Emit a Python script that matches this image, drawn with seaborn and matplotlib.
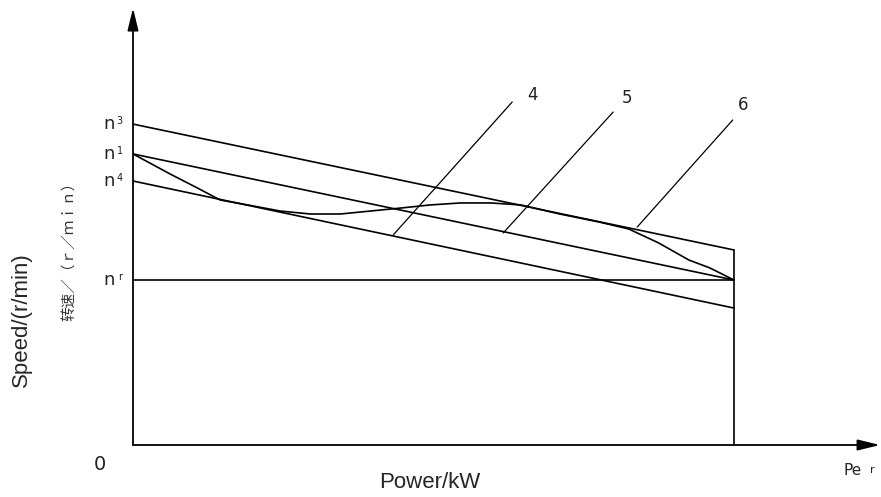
import numpy as np
import pandas as pd
import seaborn as sns
import matplotlib.pyplot as plt

sns.set_style('white')
plt.rcParams['font.family'] = ['DejaVu Sans', 'Noto Sans CJK SC']

# rated power P_er = 10, speeds in r/min
power = [0, 10]
n3_line = [1945, 1182]
n1_line = [1764, 1000]
n4_line = [1600, 830]
nr_line = [1000, 1000]
rated_x = [10, 10]
rated_y = [0, 1182]

# measured characteristic (curve from n1 down to nr)
curve_power = [0, 0.28, 0.62, 1.07, 1.45, 1.95, 2.45, 2.95, 3.45, 3.95, 4.45,
               4.95, 5.45, 5.95, 6.45, 7.1, 7.75, 8.25, 8.75, 9.25, 9.6, 10]
curve_speed = [1764, 1709, 1642, 1558, 1485, 1452, 1418, 1400, 1400, 1418, 1436,
               1455, 1467, 1467, 1455, 1400, 1352, 1309, 1224, 1121, 1073, 1000]

# leader lines for labels 4, 5, 6
leader_labels = ['4', '5', '6']
leader_x0 = [4.33, 6.16, 8.39]
leader_y0 = [1273, 1285, 1321]
leader_x1 = [6.31, 7.99, 9.98]
leader_y1 = [2079, 2018, 1970]
label_x = [6.64, 8.22, 10.15]
label_y = [2121, 2103, 2061]

speed_names = ['n', 'n', 'n', 'n']
speed_subs = ['3', '1', '4', 'r']
speed_levels = [1945, 1764, 1600, 1000]

rows = []
for name, xs, ys in [('n3', power, n3_line), ('n1', power, n1_line),
                     ('n4', power, n4_line), ('nr', power, nr_line),
                     ('rated', rated_x, rated_y), ('curve', curve_power, curve_speed)]:
    for x, y in zip(xs, ys):
        rows.append({'series': name, 'power': x, 'speed': y})
for i in range(3):
    rows.append({'series': 'lead' + leader_labels[i], 'power': leader_x0[i], 'speed': leader_y0[i]})
    rows.append({'series': 'lead' + leader_labels[i], 'power': leader_x1[i], 'speed': leader_y1[i]})
df = pd.DataFrame(rows)

fig = plt.figure(figsize=(8.81, 4.97), dpi=100)
ax = fig.add_axes([133 / 881, 52 / 497, 748.2 / 881, 445 / 497])

main = df[~df['series'].str.startswith('lead')]
sns.lineplot(data=main, x='power', y='speed', units='series', estimator=None,
             sort=False, color='black', lw=1.2, ax=ax, legend=False)
lead = df[df['series'].str.startswith('lead')]
sns.lineplot(data=lead, x='power', y='speed', units='series', estimator=None,
             sort=False, color='black', lw=0.9, ax=ax, legend=False)

ax.set_xlim(0, 12.45)
ax.set_ylim(0, 2697)
ax.set_axis_off()

# axes with arrows
arrow = dict(arrowstyle='-|>,head_length=0.9,head_width=0.22', mutation_scale=15,
             color='black', lw=1.3, shrinkA=0, shrinkB=0)
ax.annotate('', xy=(0, 2648), xytext=(0, 0), arrowprops=arrow)
ax.annotate('', xy=(12.43, 0), xytext=(0, 0), arrowprops=arrow)

for nm, sub, lev in zip(speed_names, speed_subs, speed_levels):
    ax.text(-0.4, lev, nm, ha='center', va='center', fontsize=13, color='#222')
    ax.text(-0.22, lev + 20, sub, ha='center', va='center', fontsize=7, color='#222')

for lab, x, y in zip(leader_labels, label_x, label_y):
    ax.text(x, y, lab, ha='center', va='center', fontsize=12, color='#222')

ax.text(-0.55, -121, '0', ha='center', va='center', fontsize=14, color='#222')
ax.text(11.98, -152, 'Pe', ha='center', va='center', fontsize=11, color='#222')
ax.text(12.3, -150, 'r', ha='center', va='center', fontsize=8, color='#222')

fig.text(430 / 881, 1 - 483 / 497, 'Power/kW', ha='center', va='center',
         fontsize=16, family='Liberation Sans')
fig.text(21 / 881, 1 - 320 / 497, 'Speed/(r/min)', ha='center', va='center',
         fontsize=16, rotation=90, family='Liberation Sans')
fig.text(70 / 881, 1 - 248 / 497, '转速／（ｒ／ｍｉｎ）', ha='center', va='center',
         fontsize=10.5, rotation=90, family=['Noto Sans CJK SC', 'DejaVu Sans'], color='#333')

fig.savefig('out.png', dpi=100)
